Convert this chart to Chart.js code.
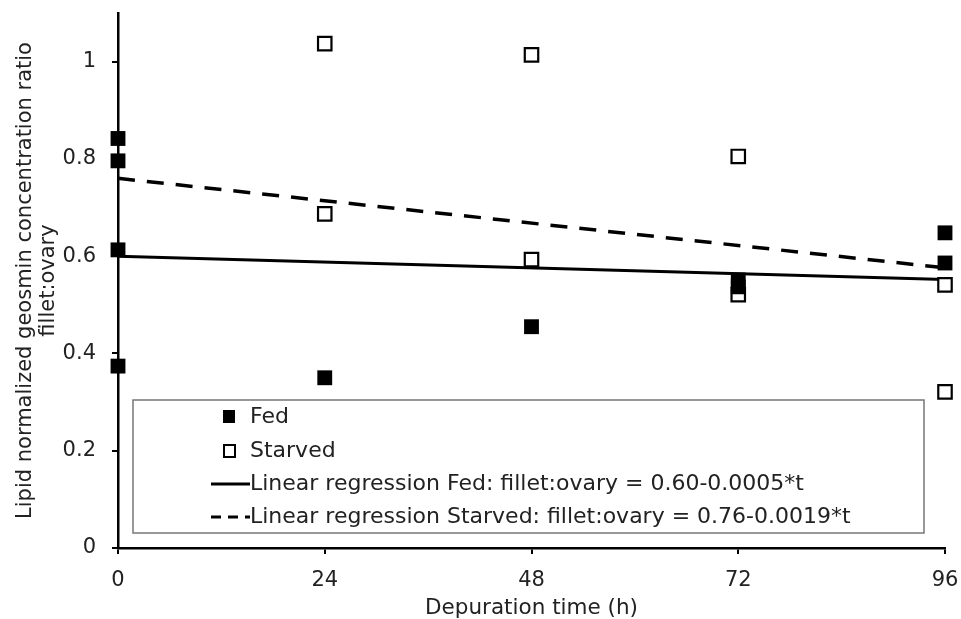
<!DOCTYPE html>
<html>
<head>
<meta charset="utf-8">
<script src="https://cdn.jsdelivr.net/npm/chart.js@4/dist/chart.umd.min.js"></script>
<style>
  html, body { margin: 0; padding: 0; background: #fff; }
  #wrap { width: 961px; height: 619px; }
</style>
</head>
<body>
<div id="wrap"><canvas id="chart" width="961" height="619"></canvas></div>
<script>
// values
const fedTime = [0, 0, 0, 0, 24, 48, 72, 72, 96, 96];
const fedRatio = [0.842, 0.796, 0.613, 0.374, 0.350, 0.455, 0.551, 0.537, 0.648, 0.586];
const starvedTime = [24, 24, 48, 48, 72, 72, 96, 96];
const starvedRatio = [1.037, 0.687, 1.014, 0.593, 0.805, 0.521, 0.541, 0.321];
const fitTime = [0, 96];
const fedFit = [0.600, 0.552];
const starvedFit = [0.760, 0.576];
const xTicks = [0, 24, 48, 72, 96];
const legendLabels = [
    'Fed',
    'Starved',
    'Linear regression Fed: fillet:ovary = 0.60-0.0005*t',
    'Linear regression Starved: fillet:ovary = 0.76-0.0019*t'
];

const FONT = '"DejaVu Sans", Verdana, sans-serif';
const pts = (xs, ys) => xs.map((x, i) => ({x: x, y: ys[i]}));

// legend box drawn inside the plot, like the original
const boxLegend = {
    id: 'boxLegend',
    afterDraw(chart) {
        const ctx = chart.ctx;
        const x0 = 133, y0 = 400, x1 = 924, y1 = 533;
        ctx.save();
        ctx.fillStyle = '#fff';
        ctx.fillRect(x0, y0, x1 - x0, y1 - y0);
        ctx.strokeStyle = '#777';
        ctx.lineWidth = 1.5;
        ctx.strokeRect(x0, y0, x1 - x0, y1 - y0);
        const rows = [417, 451, 484, 517];
        ctx.font = '22px ' + FONT;
        ctx.fillStyle = '#222';
        ctx.textBaseline = 'middle';
        for (let i = 0; i < legendLabels.length; i++) {
            ctx.fillText(legendLabels[i], 250, rows[i]);
        }
        // markers
        ctx.fillStyle = '#000';
        ctx.fillRect(223, rows[0] - 7, 12, 13);
        ctx.strokeStyle = '#000';
        ctx.lineWidth = 2;
        ctx.strokeRect(224, rows[1] - 6, 11, 12);
        ctx.lineWidth = 3;
        ctx.beginPath();
        ctx.moveTo(211, rows[2]);
        ctx.lineTo(250, rows[2]);
        ctx.stroke();
        ctx.setLineDash([10, 7]);
        ctx.beginPath();
        ctx.moveTo(211, rows[3]);
        ctx.lineTo(250, rows[3]);
        ctx.stroke();
        ctx.restore();
    }
};

const ctx = document.getElementById('chart').getContext('2d');
new Chart(ctx, {
    type: 'scatter',
    data: {
        datasets: [
            {
                label: 'Fed',
                data: pts(fedTime, fedRatio),
                pointStyle: 'rect',
                pointRadius: 10.5,
                backgroundColor: '#000',
                borderColor: '#000',
                borderWidth: 0,
                clip: false
            },
            {
                label: 'Starved',
                data: pts(starvedTime, starvedRatio),
                pointStyle: 'rect',
                pointRadius: 9.5,
                backgroundColor: '#fff',
                borderColor: '#000',
                borderWidth: 2.2,
                clip: false
            },
            {
                type: 'line',
                label: 'Linear regression Fed',
                data: pts(fitTime, fedFit),
                borderColor: '#000',
                borderWidth: 3,
                pointRadius: 0,
                fill: false,
                clip: false
            },
            {
                type: 'line',
                label: 'Linear regression Starved',
                data: pts(fitTime, starvedFit),
                borderColor: '#000',
                borderWidth: 3.5,
                borderDash: [17, 12],
                pointRadius: 0,
                fill: false,
                clip: false
            }
        ]
    },
    options: {
        responsive: false,
        animation: false,
        events: [],
        layout: {padding: {top: 13, right: 16, left: 0, bottom: 0}},
        plugins: {
            legend: {display: false},
            tooltip: {enabled: false}
        },
        scales: {
            x: {
                type: 'linear',
                min: 0,
                max: 96,
                afterFit(scale) {
                    scale.height = 71;
                    scale.paddingLeft = 0;
                    scale.paddingRight = 0;
                },
                afterBuildTicks(scale) { scale.ticks = xTicks.map(v => ({value: v})); },
                ticks: {
                    font: {family: FONT, size: 21},
                    color: '#222',
                    padding: 14
                },
                grid: {
                    display: true,
                    drawOnChartArea: false,
                    drawTicks: true,
                    tickLength: 6,
                    color: '#000',
                    lineWidth: 2
                },
                border: {display: true, color: '#000', width: 2.5},
                title: {
                    display: true,
                    text: 'Depuration time (h)',
                    font: {family: FONT, size: 21.5},
                    color: '#222',
                    padding: {top: 0, bottom: -2}
                }
            },
            y: {
                type: 'linear',
                min: 0,
                max: 1.1,
                afterFit(scale) {
                    scale.width = 118;
                    scale.paddingTop = 0;
                    scale.paddingBottom = 0;
                },
                afterBuildTicks(scale) { scale.ticks = scale.ticks.filter(t => t.value <= 1.0001); },
                ticks: {
                    stepSize: 0.2,
                    font: {family: FONT, size: 21},
                    color: '#222',
                    padding: 16,
                    callback: v => String(+v.toFixed(1))
                },
                grid: {
                    display: true,
                    drawOnChartArea: false,
                    drawTicks: true,
                    tickLength: 6,
                    color: '#000',
                    lineWidth: 2
                },
                border: {display: true, color: '#000', width: 2.5},
                title: {
                    display: true,
                    text: ['Lipid normalized geosmin concentration ratio', 'fillet:ovary'],
                    font: {family: FONT, size: 21, lineHeight: 1.05},
                    color: '#222',
                    padding: {top: 15, bottom: 0}
                }
            }
        }
    },
    plugins: [boxLegend]
});
</script>
</body>
</html>
